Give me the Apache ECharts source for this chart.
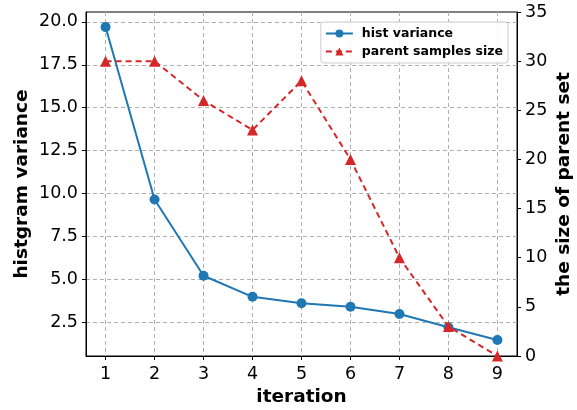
<!DOCTYPE html>
<html>
<head>
<meta charset="utf-8">
<script src="https://cdn.jsdelivr.net/npm/echarts@6/dist/echarts.min.js"></script>
<style>
  html, body { margin: 0; padding: 0; background: #fff; }
  #chart { width: 577px; height: 410px; }
</style>
</head>
<body>
<div id="chart"></div>
<script>
  // données
  const iterations = [1, 2, 3, 4, 5, 6, 7, 8, 9];
  const histVariance = [19.7, 9.65, 5.2, 3.97, 3.6, 3.39, 2.97, 2.2, 1.45];
  const parentSize = [30, 30, 26, 23, 28, 20, 10, 3, 0];
  const leftTicks = [2.5, 5, 7.5, 10, 12.5, 15, 17.5, 20];

  const FONT = 'DejaVu Sans';
  const BLUE = '#1f77b4', RED = '#d62728';
  const pair = (ys) => iterations.map((x, i) => [x, ys[i]]);

  const chart = echarts.init(document.getElementById('chart'));
  const gridLine = { show: true, lineStyle: { color: '#b0b0b0', type: [4, 3], width: 1 } };
  const titleStyle = { fontFamily: FONT, fontWeight: 'bold', fontSize: 18.5, color: '#000' };

  chart.setOption({
    animation: false,
    textStyle: { fontFamily: FONT },
    grid: {
      left: 86, right: 60, top: 12, bottom: 54,
      outerBoundsMode: 'none', containLabel: false,
      show: true, borderColor: '#000', borderWidth: 1
    },
    legend: {
      right: 69, top: 22,
      orient: 'vertical',
      itemWidth: 27, itemHeight: 10, itemGap: 5,
      padding: [5, 5, 5, 4],
      borderColor: '#cccccc', borderWidth: 1, borderRadius: 3,
      backgroundColor: 'rgba(255,255,255,0.85)',
      textStyle: { fontFamily: FONT, fontWeight: 'bold', fontSize: 12.5, color: '#000', padding: [0, 0, 0, 4] },
      data: ['hist variance', 'parent samples size']
    },
    xAxis: {
      type: 'value', min: 0.6, max: 9.4,
      name: 'iteration', nameLocation: 'middle', nameGap: 31,
      nameTextStyle: titleStyle,
      axisLine: { lineStyle: { color: '#000', width: 1 } },
      axisTick: { show: true, length: 4, customValues: iterations, lineStyle: { color: '#000' } },
      axisLabel: { customValues: iterations, fontSize: 17.5, color: '#000', margin: 9 },
      splitLine: gridLine
    },
    yAxis: [
      {
        type: 'value', min: 0.52, max: 20.58, position: 'left',
        name: 'histgram variance', nameLocation: 'middle', nameGap: 54, nameRotate: 90,
        nameMoveOverlap: false,
        nameTextStyle: titleStyle,
        axisLine: { show: true, lineStyle: { color: '#000', width: 1 } },
        axisTick: { show: true, length: 4, customValues: leftTicks, lineStyle: { color: '#000' } },
        axisLabel: { customValues: leftTicks, fontSize: 17.5, color: '#000', margin: 8,
          formatter: (v) => v.toFixed(1) },
        splitLine: gridLine
      },
      {
        type: 'value', min: 0, max: 35, interval: 5, position: 'right',
        name: 'the size of parent set', nameLocation: 'middle', nameGap: 38, nameRotate: 90,
        nameMoveOverlap: false,
        nameTextStyle: titleStyle,
        axisLine: { show: true, lineStyle: { color: '#000', width: 1 } },
        axisTick: { show: true, length: 4, lineStyle: { color: '#000' } },
        axisLabel: { fontSize: 17.5, color: '#000', margin: 8 },
        splitLine: { show: false }
      }
    ],
    series: [
      {
        name: 'hist variance', type: 'line', yAxisIndex: 0,
        data: pair(histVariance),
        symbol: 'circle', symbolSize: 10,
        itemStyle: { color: BLUE },
        lineStyle: { color: BLUE, width: 2 },
        z: 3
      },
      {
        name: 'parent samples size', type: 'line', yAxisIndex: 1,
        data: pair(parentSize),
        symbol: 'triangle', symbolSize: 11,
        itemStyle: { color: RED },
        lineStyle: { color: RED, width: 2, type: [6, 4] },
        z: 4
      }
    ]
  });
</script>
</body>
</html>
